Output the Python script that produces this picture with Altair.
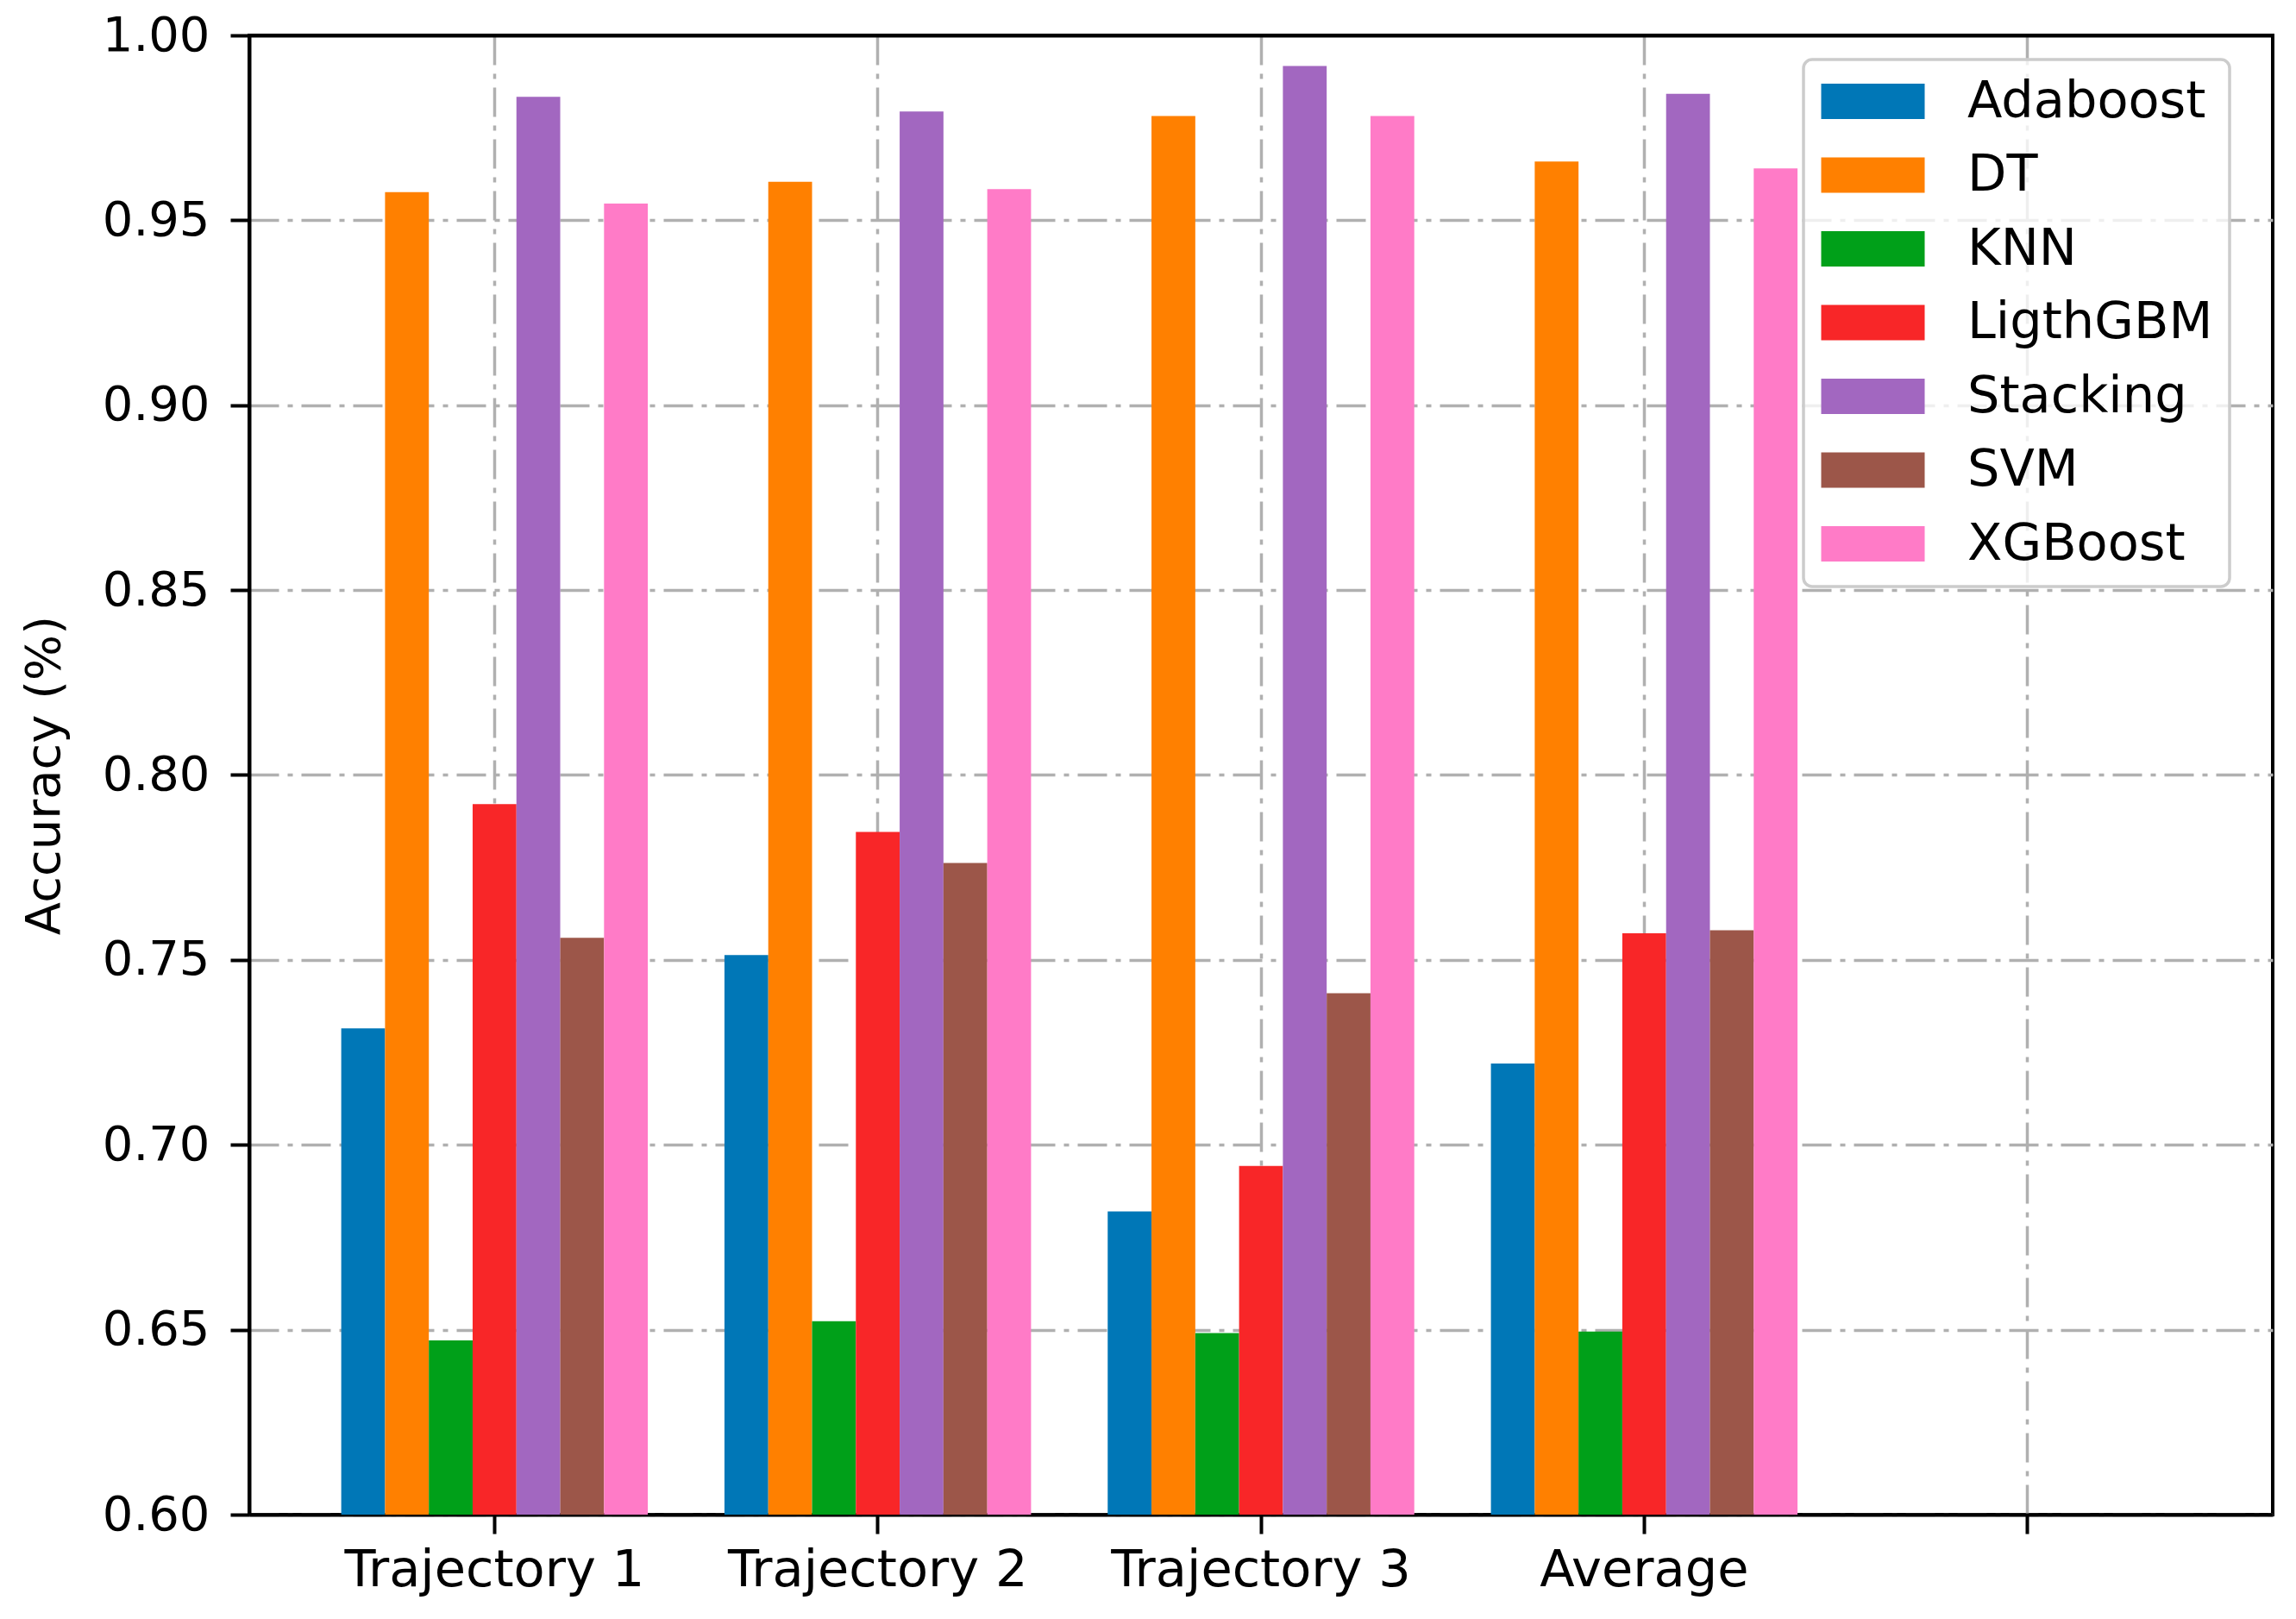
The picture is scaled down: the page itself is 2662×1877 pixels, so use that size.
import altair as alt
import pandas as pd

# ---- data ----
groups = ["Trajectory 1", "Trajectory 2", "Trajectory 3", "Average"]
x_domain = groups + [""]          # the reference has a fifth, unlabeled slot
models = ["Adaboost", "DT", "KNN", "LigthGBM", "Stacking", "SVM", "XGBoost"]
colors = ["#0077b7", "#ff8000", "#00a019", "#f82628", "#a267c0", "#9c5649", "#ff7bc7"]

adaboost = [0.7315, 0.7513, 0.682, 0.722]
dt = [0.9576, 0.9604, 0.9782, 0.9659]
knn = [0.6471, 0.6523, 0.6491, 0.6495]
lightgbm = [0.7921, 0.7846, 0.6943, 0.7572]
stacking = [0.9834, 0.9794, 0.9917, 0.9842]
svm = [0.756, 0.7762, 0.741, 0.758]
xgboost = [0.9545, 0.9584, 0.9782, 0.964]

y_ticks = [0.60, 0.65, 0.70, 0.75, 0.80, 0.85, 0.90, 0.95, 1.00]

series = [adaboost, dt, knn, lightgbm, stacking, svm, xgboost]
rows = []
for m, vals in zip(models, series):
    for g, v in zip(groups, vals):
        rows.append({"group": g, "model": m, "acc": v})
df = pd.DataFrame(rows)

FONT = "DejaVu Sans"
FS = 56
FS_WIDE = 59

top_edge = "datum.value >= 0.999"

chart = (
    alt.Chart(df)
    .mark_bar(clip=True)
    .encode(
        x=alt.X(
            "group:N",
            sort=x_domain,
            scale=alt.Scale(domain=x_domain, paddingInner=0.2, paddingOuter=0.24),
            axis=alt.Axis(
                title=None,
                labelAngle=0,
                labelPadding=13,
                labelLimit=0,
                labelFontSize=FS_WIDE,
                bandPosition=0.5,
                grid=True,
            ),
        ),
        xOffset=alt.XOffset(
            "model:N",
            sort=models,
            scale=alt.Scale(domain=models, paddingInner=0, paddingOuter=0),
        ),
        y=alt.Y(
            "acc:Q",
            scale=alt.Scale(domain=[0.6, 1.0], zero=False, nice=False),
            axis=alt.Axis(
                title="Accuracy (%)",
                values=y_ticks,
                format=".2f",
                labelPadding=24,
                labelLimit=0,
                titlePadding=38,
                gridColor=alt.condition(top_edge, alt.value("#000000"), alt.value("#b0b0b0")),
                gridDash=alt.condition(top_edge, alt.value([1, 0]), alt.value([34, 10, 6, 10])),
                gridWidth=alt.condition(top_edge, alt.value(4), alt.value(3.5)),
            ),
        ),
        color=alt.Color(
            "model:N",
            sort=models,
            scale=alt.Scale(domain=models, range=colors),
            legend=alt.Legend(
                title=None,
                orient="none",
                legendX=1802,
                legendY=28,
                symbolType="M-2.143,-0.732L2.143,-0.732L2.143,0.732L-2.143,0.732Z",
                symbolSize=3136,
                symbolOffset=32,
                symbolStrokeWidth=0,
                symbolOpacity=1,
                labelOffset=80,
                labelFontSize=FS_WIDE,
                labelFont=FONT,
                labelColor="#000000",
                labelLimit=0,
                labelExpr="datum.label + '\u2002\u2005'",
                rowPadding=25.5,
                padding=19,
                strokeColor="#cccccc",
                fillColor="rgba(255,255,255,0.8)",
                cornerRadius=10,
            ),
        ),
    )
    .properties(
        width=2346,
        height=1715,
        autosize=alt.AutoSizeParams(type="none"),
        padding={"left": 281, "top": 33, "right": 19, "bottom": 113},
    )
    .configure_view(stroke="#000000", strokeWidth=4)
    .configure_axis(
        labelFont=FONT,
        labelFontSize=FS,
        labelColor="#000000",
        titleFont=FONT,
        titleFontSize=FS,
        titleFontWeight="normal",
        titleColor="#000000",
        domainColor="#000000",
        domainWidth=4,
        tickColor="#000000",
        tickWidth=4,
        tickSize=22,
        gridColor="#b0b0b0",
        gridWidth=3.5,
        gridDash=[34, 10, 6, 10],
        gridOpacity=1,
        zindex=1,
    )
    .configure_legend(strokeWidth=3.5)
)

chart.save("out.html", embed_options={"renderer": "svg", "actions": False})
